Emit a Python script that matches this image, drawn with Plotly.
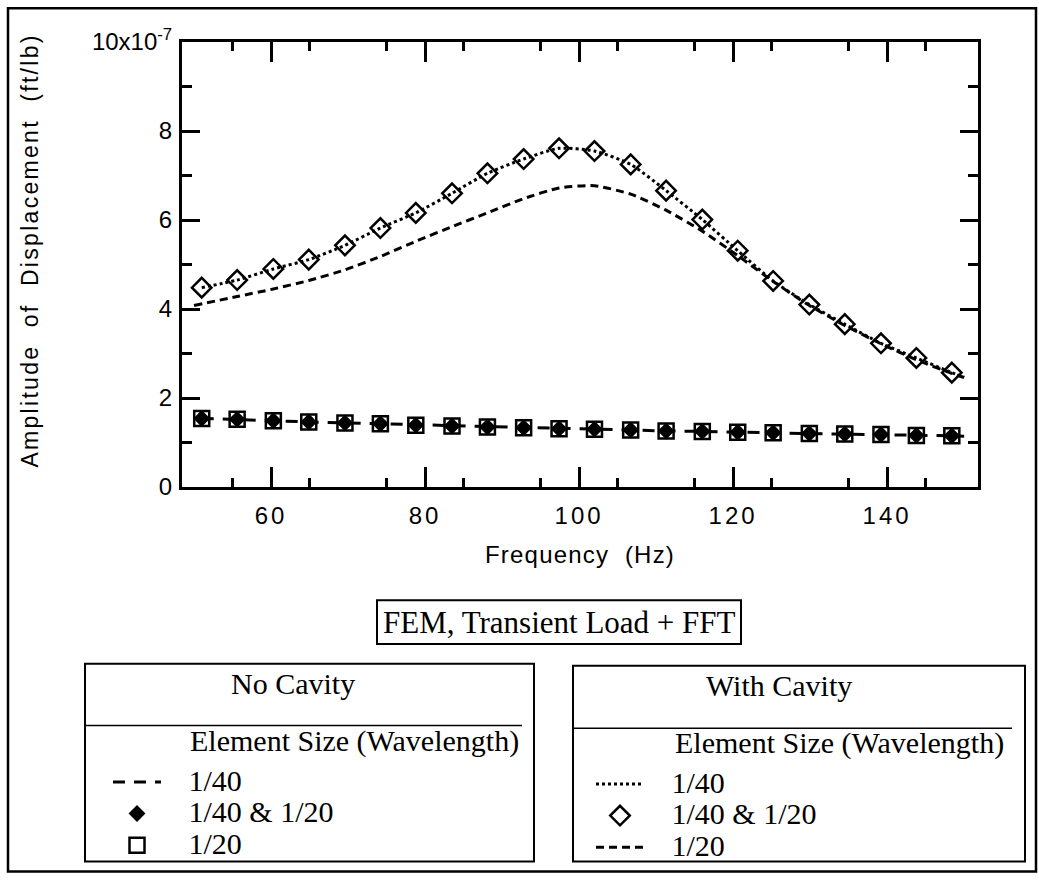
import plotly.graph_objects as go

# ---------------- data ----------------
freq = [51.0, 55.6, 60.3, 64.9, 69.6, 74.2, 78.8, 83.5, 88.1, 92.8, 97.4,
        102.0, 106.7, 111.3, 116.0, 120.6, 125.2, 129.9, 134.5, 139.2, 143.8, 148.4]

# With cavity, markers (1/40 & 1/20)
cav_pts = [4.48, 4.65, 4.90, 5.11, 5.43, 5.82, 6.16, 6.60, 7.05, 7.37, 7.61,
           7.55, 7.25, 6.66, 6.01, 5.31, 4.63, 4.10, 3.66, 3.23, 2.90, 2.57]

# With cavity, 1/40 (dotted line)
cav40_freq = [51.0, 55.6, 60.3, 64.9, 69.6, 74.2, 78.8, 83.5, 88.1, 92.8, 97.4,
              102.0, 106.7, 111.3, 116.0, 120.6, 125.2, 129.9, 134.5, 139.2, 143.8, 148.4, 150.0]
cav40_amp = [4.48, 4.65, 4.90, 5.11, 5.43, 5.82, 6.16, 6.60, 7.05, 7.37, 7.61,
             7.55, 7.25, 6.66, 6.01, 5.31, 4.63, 4.10, 3.66, 3.23, 2.90, 2.57, 2.47]

# With cavity, 1/20 (dashed line)
cav20_freq = [50.0, 55.6, 60.3, 64.9, 69.6, 74.2, 78.8, 83.5, 88.1, 92.8, 97.4,
              102.0, 106.7, 111.3, 116.0, 120.6, 125.2, 129.9, 134.5, 139.2, 143.8, 148.4, 150.0]
cav20_amp = [4.08, 4.28, 4.45, 4.64, 4.88, 5.18, 5.52, 5.85, 6.16, 6.48, 6.72,
             6.77, 6.58, 6.22, 5.75, 5.20, 4.62, 4.08, 3.63, 3.22, 2.86, 2.55, 2.46]

# No cavity, markers (1/40 & 1/20 and 1/20)
nc_pts = [1.54, 1.52, 1.49, 1.46, 1.44, 1.42, 1.39, 1.37, 1.35, 1.33, 1.31,
          1.30, 1.28, 1.26, 1.25, 1.23, 1.22, 1.20, 1.19, 1.18, 1.16, 1.15]

# No cavity, 1/40 (dashed line)
nc40_freq = [51.0, 55.6, 60.3, 64.9, 69.6, 74.2, 78.8, 83.5, 88.1, 92.8, 97.4,
             102.0, 106.7, 111.3, 116.0, 120.6, 125.2, 129.9, 134.5, 139.2, 143.8, 148.4, 150.0]
nc40_amp = [1.54, 1.52, 1.49, 1.46, 1.44, 1.42, 1.39, 1.37, 1.35, 1.33, 1.31,
            1.30, 1.28, 1.26, 1.25, 1.23, 1.22, 1.20, 1.19, 1.18, 1.16, 1.15, 1.14]

x_labelticks = [60, 80, 100, 120, 140]
x_labeltext = ["60", "80", "100", "120", "140"]
x_midticks = [50, 70, 90, 110, 130, 150]
x_minorticks = [55, 65, 75, 85, 95, 105, 115, 125, 135, 145]
y_tickvals = [0, 2, 4, 6, 8, 10]
y_ticktext = ["0", "2", "4", "6", "8", "10x10<sup>-7</sup>"]
y_minorticks = [1, 3, 5, 7, 9]

legend_names_nc = ["1/40", "1/40 &amp; 1/20", "1/20"]
legend_names_cav = ["1/40", "1/40 &amp; 1/20", "1/20"]

# ---------------- layout geometry (pixels) ----------------
W, H = 1039, 880
PL, PT, PW, PH = 182, 42, 796, 448

def fx(px):
    return (px - PL) / PW

def fy(py):
    return (PT + PH - py) / PH

SANS = "Liberation Sans, Arial, sans-serif"
SERIF = "Liberation Serif, Times New Roman, serif"
BIG = 30

def nm(s):
    return '<span style="font-size:%dpx">&nbsp;&nbsp;&nbsp;%s</span>' % (BIG, s)

def spaced(s, ls):
    return '<span style="letter-spacing:%spx">%s</span>' % (ls, s)

fig = go.Figure()

# No cavity
fig.add_trace(go.Scatter(x=nc40_freq, y=nc40_amp, mode="lines", name=nm(legend_names_nc[0]),
                         line=dict(color="black", width=3, dash="12px,9px"),
                         legend="legend"))
fig.add_trace(go.Scatter(x=freq, y=nc_pts, mode="markers", name=nm(legend_names_nc[1]),
                         marker=dict(symbol="diamond", size=13, color="black"),
                         legend="legend"))
fig.add_trace(go.Scatter(x=freq, y=nc_pts, mode="markers", name=nm(legend_names_nc[2]),
                         marker=dict(symbol="square-open", size=15, color="black",
                                     line=dict(width=2.5, color="black")),
                         legend="legend"))

# With cavity
fig.add_trace(go.Scatter(x=cav40_freq, y=cav40_amp, mode="lines", name=nm(legend_names_cav[0]),
                         line=dict(color="black", width=3, dash="3px,3px", shape="spline", smoothing=0.6),
                         legend="legend2"))
fig.add_trace(go.Scatter(x=freq, y=cav_pts, mode="markers", name=nm(legend_names_cav[1]),
                         marker=dict(symbol="diamond-open", size=15, color="black",
                                     line=dict(width=2.5, color="black")),
                         legend="legend2"))
fig.add_trace(go.Scatter(x=cav20_freq, y=cav20_amp, mode="lines", name=nm(legend_names_cav[2]),
                         line=dict(color="black", width=3, dash="8px,5px", shape="spline", smoothing=0.6),
                         legend="legend2"))

tickfont = dict(family=SANS, size=24, color="black")

shapes = [
    # outer frame
    dict(type="rect", xref="paper", yref="paper", x0=fx(8), x1=fx(1036), y0=fy(877), y1=fy(8),
         line=dict(color="black", width=2.5)),
    # title box
    dict(type="rect", xref="paper", yref="paper", x0=fx(377), x1=fx(741), y0=fy(648), y1=fy(604),
         line=dict(color="black", width=2)),
    # left legend box
    dict(type="rect", xref="paper", yref="paper", x0=fx(85), x1=fx(534), y0=fy(867), y1=fy(668),
         line=dict(color="black", width=2)),
    dict(type="line", xref="paper", yref="paper", x0=fx(85), x1=fx(522), y0=fy(730), y1=fy(730),
         line=dict(color="black", width=1.5)),
    # right legend box
    dict(type="rect", xref="paper", yref="paper", x0=fx(573), x1=fx(1025), y0=fy(867), y1=fy(670),
         line=dict(color="black", width=2)),
    dict(type="line", xref="paper", yref="paper", x0=fx(573), x1=fx(1012), y0=fy(733), y1=fy(733),
         line=dict(color="black", width=1.5)),
]

def ann(text, x, y, xanchor="center", size=BIG, family=SERIF, **kw):
    return dict(text=text, x=fx(x), y=fy(y), xref="paper", yref="paper", showarrow=False,
                xanchor=xanchor, yanchor="middle", font=dict(family=family, size=size, color="black"), **kw)

annotations = [
    ann("FEM, Transient Load + FFT", 559, 626, size=31),
    ann("No Cavity", 293, 688),
    ann("With Cavity", 779, 690),
    ann("Element Size (Wavelength)", 188, 746, xanchor="left"),
    ann("Element Size (Wavelength)", 673, 748, xanchor="left"),
    ann(spaced("Frequency&nbsp; (Hz)", 1.2), 580, 558, size=24, family=SANS),
    ann(spaced("Amplitude&nbsp; of&nbsp; Displacement&nbsp; (ft/lb)", 2.3), 30, 252,
        size=23, family=SANS, textangle=-90),
]

leg_common = dict(font=dict(family=SERIF, size=22, color="black"), bgcolor="rgba(0,0,0,0)",
                  borderwidth=0, itemwidth=48, xanchor="left", yanchor="top", itemclick=False)

XR = [48.44, 151.8]

fig.update_layout(
    width=W, height=H,
    margin=dict(l=PL, r=W - PL - PW, t=PT, b=H - PT - PH, pad=0),
    paper_bgcolor="white", plot_bgcolor="white",
    showlegend=True,
    legend=dict(x=fx(108), y=fy(766), **leg_common),
    legend2=dict(x=fx(591), y=fy(768), **leg_common),
    xaxis=dict(range=XR, tickvals=x_labelticks,
               ticktext=[spaced(t, 3) for t in x_labeltext],
               ticks="inside", ticklen=20, tickwidth=2.5, tickcolor="black",
               showline=True, linewidth=3, linecolor="black", mirror="ticks",
               showgrid=False, zeroline=False, tickfont=tickfont, ticklabelstandoff=5,
               minor=dict(tickvals=x_minorticks, ticks="inside", ticklen=9, tickwidth=2.5,
                          tickcolor="black", showgrid=False)),
    xaxis2=dict(range=XR, overlaying="x", anchor="y", side="bottom",
                tickvals=x_midticks, ticks="inside", ticklen=15, tickwidth=2.5, tickcolor="black",
                showticklabels=False, showline=False, mirror="ticks", showgrid=False, zeroline=False),
    yaxis=dict(range=[0, 10], tickvals=y_tickvals,
               ticktext=y_ticktext,
               ticks="inside", ticklen=18, tickwidth=2.5, tickcolor="black",
               showline=True, linewidth=3, linecolor="black", mirror="ticks",
               showgrid=False, zeroline=False, tickfont=tickfont, ticklabelstandoff=2,
               minor=dict(tickvals=y_minorticks, ticks="inside", ticklen=10, tickwidth=2.5,
                          tickcolor="black", showgrid=False)),
    shapes=shapes,
    annotations=annotations,
)

fig.write_html("out.html")
